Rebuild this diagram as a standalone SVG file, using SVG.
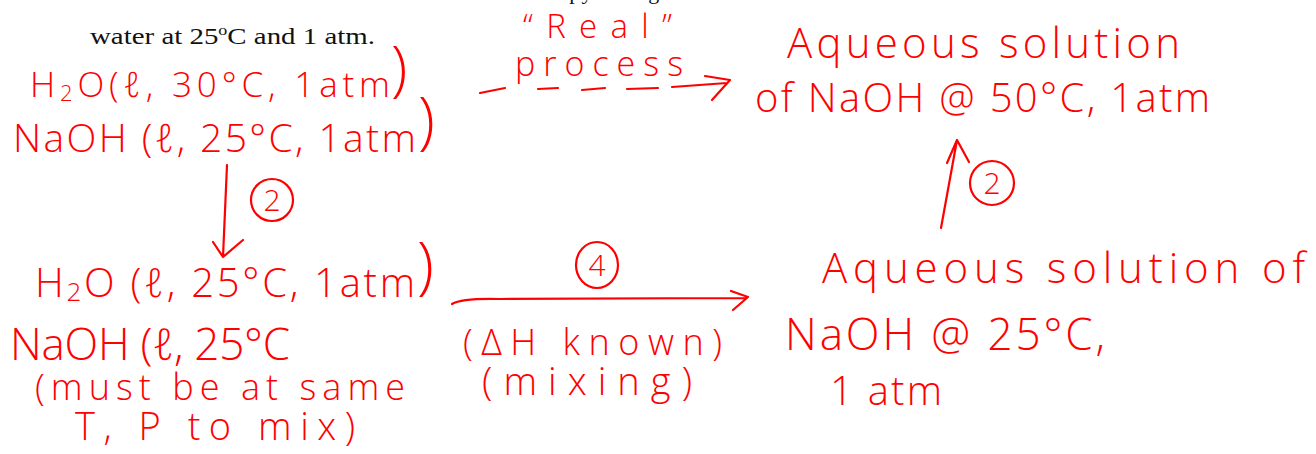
<svg xmlns="http://www.w3.org/2000/svg" width="1316" height="454" viewBox="0 0 1316 454">
  <style>
    .print { font-family: "Liberation Serif", "Times New Roman", serif; fill: #111; }
    .ink { font-family: "Open Sans", "DejaVu Sans", sans-serif; font-weight: 300; fill: #ff0000; }
    .pen { fill: none; stroke: #ff0000; stroke-width: 2.2; stroke-linecap: round; stroke-linejoin: round; }
  </style>
  <rect width="1316" height="454" fill="#ffffff"/>

  <!-- printed problem statement (previous line runs off the top edge) -->
  <g id="statement">
    <text class="print" x="70" y="-1.5" font-size="22" fill="#777" textLength="920" lengthAdjust="spacing">of NaOH at 30°C and 1 atm. Calculate the enthalpy change for the dissolution of NaOH in</text>
    <text class="print" x="90" y="44" font-size="22.5" textLength="285" lengthAdjust="spacingAndGlyphs">water at 25<tspan font-size="14" dy="-9">o</tspan><tspan dy="9">C and 1 atm.</tspan></text>
  </g>

  <!-- initial state: separate liquids -->
  <g id="initial">
    <text class="ink" x="30" y="97" font-size="35" textLength="360" lengthAdjust="spacing">H<tspan font-size="22" dy="4">2</tspan><tspan dy="-4">O(ℓ, 30°C, 1atm</tspan></text>
    <text class="ink" x="391" y="90" font-size="60">)</text>
    <text class="ink" x="13" y="152" font-size="39" textLength="403" lengthAdjust="spacing">NaOH (ℓ, 25°C, 1atm</text>
    <text class="ink" x="418" y="142" font-size="62">)</text>
  </g>

  <!-- both liquids brought to 25 °C -->
  <g id="cooled">
    <text class="ink" x="35" y="297" font-size="40" textLength="380" lengthAdjust="spacing">H<tspan font-size="26" dy="4">2</tspan><tspan dy="-4">O (ℓ, 25°C, 1atm</tspan></text>
    <text class="ink" x="417" y="287" font-size="62">)</text>
    <text class="ink" x="10" y="360" font-size="44" textLength="280" lengthAdjust="spacing">NaOH (ℓ, 25°C</text>
    <text class="ink" x="35" y="400" font-size="36" textLength="370" lengthAdjust="spacing">(must be at same</text>
    <text class="ink" x="75" y="440" font-size="38" textLength="280" lengthAdjust="spacing">T, P  to mix)</text>
  </g>

  <!-- solution at 25 °C -->
  <g id="mixed">
    <text class="ink" x="822" y="283" font-size="42" textLength="483" lengthAdjust="spacing">Aqueous solution of</text>
    <text class="ink" x="785" y="350" font-size="44" textLength="320" lengthAdjust="spacing">NaOH @ 25°C,</text>
    <text class="ink" x="830" y="405" font-size="40" textLength="112" lengthAdjust="spacing">1 atm</text>
  </g>

  <!-- final solution at 50 °C -->
  <g id="final">
    <text class="ink" x="787" y="58" font-size="42" textLength="393" lengthAdjust="spacing">Aqueous solution</text>
    <text class="ink" x="755" y="112" font-size="40" textLength="455" lengthAdjust="spacing">of NaOH @ 50°C, 1atm</text>
  </g>

  <!-- process steps -->
  <g id="connectors">
    <!-- real process (dashed) -->
    <g id="real-process">
      <text class="ink" x="523" y="38" font-size="33" textLength="149" lengthAdjust="spacing">“Real”</text>
      <text class="ink" x="515" y="76" font-size="34" textLength="168" lengthAdjust="spacing">process</text>
      <path class="pen" d="M480,93 L505,88 M538,89 L558,88 M582,90 L605,88 M627,89 L658,88 M672,87 L727,83 M705,76 L730,80 L712,100"/>
    </g>

    <!-- step 2: cool water -->
    <g id="step-cool">
      <path class="pen" d="M227,165 L223,257 M213,242 L223,257 L243,240"/>
      <ellipse class="pen" cx="272" cy="200" rx="21" ry="21"/>
      <text class="ink" x="272" y="211" font-size="30" text-anchor="middle">2</text>
    </g>

    <!-- step 4: mixing -->
    <g id="step-mix">
      <path class="pen" d="M452,304 Q462,298 500,299 L745,298 M731,291 L748,297 L733,310"/>
      <ellipse class="pen" cx="597" cy="265" rx="21" ry="23"/>
      <text class="ink" x="597" y="276" font-size="30" text-anchor="middle">4</text>
      <text class="ink" x="463" y="355" font-size="36" textLength="259" lengthAdjust="spacing">(ΔH known)</text>
      <text class="ink" x="482" y="395" font-size="38" textLength="210" lengthAdjust="spacing">(mixing)</text>
    </g>

    <!-- step 2: heat solution -->
    <g id="step-heat">
      <path class="pen" d="M941,228 L957,140 M947,163 L957,140 L969,162"/>
      <ellipse class="pen" cx="992" cy="183" rx="22" ry="22"/>
      <text class="ink" x="992" y="194" font-size="30" text-anchor="middle">2</text>
    </g>
  </g>
</svg>
